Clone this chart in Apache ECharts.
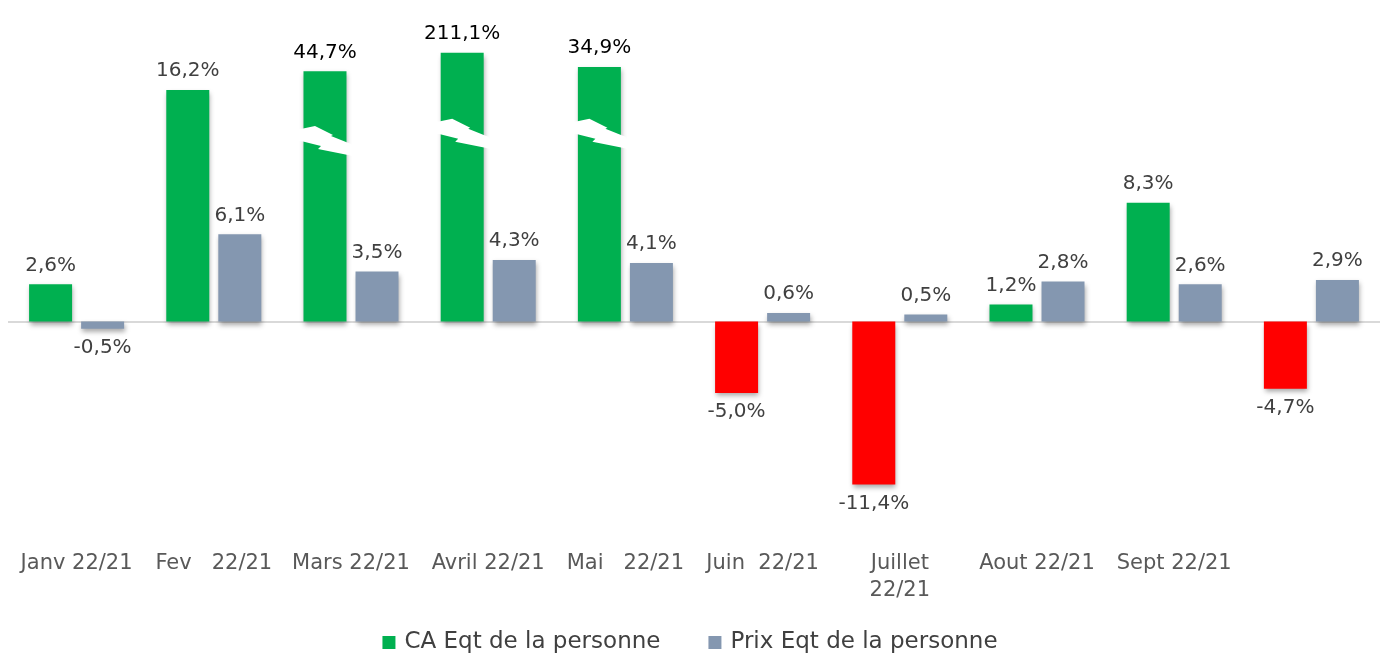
<!DOCTYPE html>
<html>
<head>
<meta charset="utf-8">
<script src="https://cdn.jsdelivr.net/npm/echarts@6/dist/echarts.min.js"></script>
<style>
    html, body { margin: 0; padding: 0; background: #fff; }
    #chart { width: 1380px; height: 653px; }
</style>
</head>
<body>
<div id="chart"></div>
<script>
// Données mensuelles (évolution 22/21, en %)
const months = ['Janv 22/21', 'Fev   22/21', 'Mars 22/21', 'Avril 22/21', 'Mai   22/21',
    'Juin  22/21', 'Juillet\n22/21', 'Aout 22/21', 'Sept 22/21', ''];
const caValues = [2.6, 16.2, 44.7, 211.1, 34.9, -5.0, -11.4, 1.2, 8.3, -4.7];
const prixValues = [-0.5, 6.1, 3.5, 4.3, 4.1, 0.6, 0.5, 2.8, 2.6, 2.9];
// hauteur affichée des barres coupées (axe interrompu), null = hauteur réelle
const caBrokenHeight = [null, null, 17.5, 18.8, 17.8, null, null, null, null, null];
// niveau du symbole de coupure sur les barres interrompues
const breakLevel = [null, null, 12.6, 13.1, 13.1, null, null, null, null, null];

const GREEN = '#00B050';
const RED = '#FF0000';
const GREY = '#8497B0';
const FONT = 'DejaVu Sans';

const fmt = (v) => v.toFixed(1).replace('.', ',') + '%';

const shadow = {
    shadowBlur: 5,
    shadowOffsetX: 1,
    shadowOffsetY: 3,
    shadowColor: 'rgba(0,0,0,0.35)'
};

const caData = caValues.map((v, i) => {
    const broken = caBrokenHeight[i] !== null;
    return {
        value: broken ? caBrokenHeight[i] : v,
        real: v,
        itemStyle: { color: v < 0 ? RED : GREEN },
        label: {
            position: v < 0 ? 'bottom' : 'top',
            color: broken ? '#000' : '#404040'
        }
    };
});

const prixData = prixValues.map((v) => ({
    value: v,
    label: { position: v < 0 ? 'bottom' : 'top' }
}));

const breakData = breakLevel.map((v, i) => (v === null ? null : [i, v]));

const chart = echarts.init(document.getElementById('chart'));

chart.setOption({
    animation: false,
    grid: { left: 8, right: 0, top: 7, bottom: 117 },
    legend: {
        data: ['CA Eqt de la personne', 'Prix Eqt de la personne'],
        bottom: -6,
        left: 'center',
        itemWidth: 13,
        itemHeight: 13,
        itemGap: 48,
        icon: 'rect',
        textStyle: { fontFamily: FONT, fontSize: 23, color: '#404040', padding: [0, 0, 0, 4] }
    },
    xAxis: {
        type: 'category',
        data: months,
        axisLine: { show: false, onZero: false },
        axisTick: { show: false },
        axisLabel: {
            interval: 0,
            margin: 14,
            fontFamily: FONT,
            fontSize: 21,
            color: '#595959',
            lineHeight: 27
        }
    },
    yAxis: {
        type: 'value',
        min: -15,
        max: 22,
        show: false,
        splitLine: { show: false }
    },
    series: [
        {
            name: 'CA Eqt de la personne',
            type: 'bar',
            data: caData,
            barWidth: 43,
            barGap: '21%',
            itemStyle: Object.assign({ color: GREEN }, shadow),
            label: {
                show: true,
                distance: 9,
                fontFamily: FONT,
                fontSize: 20,
                formatter: (p) => fmt(p.data.real)
            },
            markLine: {
                silent: true,
                symbol: 'none',
                label: { show: false },
                lineStyle: { color: '#D9D9D9', width: 2, type: 'solid' },
                data: [{ yAxis: 0 }],
                z: 1
            }
        },
        {
            name: 'Prix Eqt de la personne',
            type: 'bar',
            data: prixData,
            barWidth: 43,
            itemStyle: Object.assign({ color: GREY }, shadow),
            label: {
                show: true,
                distance: 9,
                fontFamily: FONT,
                fontSize: 20,
                color: '#404040',
                formatter: (p) => fmt(p.value)
            }
        },
        {
            name: 'coupure',
            type: 'scatter',
            data: breakData,
            symbol: 'path://M0,4 L19,0 L37,9 L35,10 L55,18 L62,31 L22,23 L25,20 L5,15 L0,15 Z',
            symbolSize: [62, 31],
            symbolKeepAspect: false,
            symbolOffset: [-24, 0],
            itemStyle: { color: '#fff', opacity: 1 },
            silent: true,
            z: 5
        }
    ]
});
</script>
</body>
</html>
